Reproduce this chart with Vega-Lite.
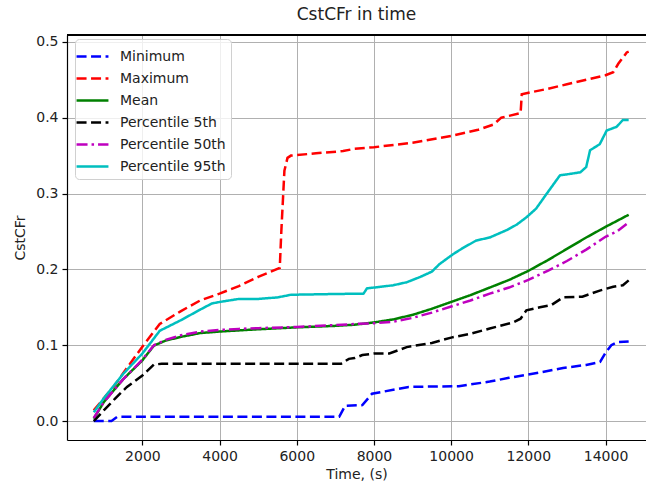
{
  "$schema": "https://vega.github.io/schema/vega-lite/v6.json",
  "width": 579,
  "height": 405,
  "autosize": "none",
  "padding": {"left": 67, "top": 35, "right": 0, "bottom": 46},
  "background": "white",
  "title": {"text": "CstCFr in time", "fontSize": 17, "font": "DejaVu Sans", "fontWeight": "normal", "color": "#222222", "offset": 10, "anchor": "middle"},
  "config": {
    "view": {"stroke": null},
    "font": "DejaVu Sans",
    "axis": {"grid": true, "labelFont": "DejaVu Sans", "titleFont": "DejaVu Sans", "labelFontSize": 14, "titleFontSize": 14, "titleFontWeight": "normal", "labelColor": "#222222", "titleColor": "#222222", "gridColor": "#b0b0b0", "gridWidth": 1, "gridOpacity": 1, "domainColor": "black", "domainWidth": 1.2, "tickColor": "black", "tickSize": 5, "tickWidth": 1.2, "labelPadding": 4},
    "legend": {
      "orient": "none", "legendX": 8, "legendY": 4,
      "symbolType": "M-1.45,0H1.45", "symbolSize": 484, "symbolStrokeWidth": 2.5, "symbolFillColor": "transparent",
      "labelFont": "DejaVu Sans", "labelFontSize": 14, "labelColor": "#222222", "labelOffset": 15,
      "fillColor": "rgba(255,255,255,0.8)", "strokeColor": "#d0d0d0", "cornerRadius": 4, "padding": 5, "rowPadding": 2
    }
  },
  "data": {"values": [
    {"series": "Minimum", "t": 740, "v": 0.0},
    {"series": "Minimum", "t": 1200, "v": 0.0},
    {"series": "Minimum", "t": 1350, "v": 0.0055},
    {"series": "Minimum", "t": 7100, "v": 0.0055},
    {"series": "Minimum", "t": 7250, "v": 0.02},
    {"series": "Minimum", "t": 7700, "v": 0.021},
    {"series": "Minimum", "t": 7950, "v": 0.036},
    {"series": "Minimum", "t": 8900, "v": 0.045},
    {"series": "Minimum", "t": 10200, "v": 0.046},
    {"series": "Minimum", "t": 11000, "v": 0.052},
    {"series": "Minimum", "t": 11500, "v": 0.057},
    {"series": "Minimum", "t": 12300, "v": 0.064},
    {"series": "Minimum", "t": 12900, "v": 0.07},
    {"series": "Minimum", "t": 13500, "v": 0.074},
    {"series": "Minimum", "t": 13860, "v": 0.078},
    {"series": "Minimum", "t": 14000, "v": 0.09},
    {"series": "Minimum", "t": 14150, "v": 0.1},
    {"series": "Minimum", "t": 14300, "v": 0.104},
    {"series": "Minimum", "t": 14600, "v": 0.105},

    {"series": "Maximum", "t": 740, "v": 0.014},
    {"series": "Maximum", "t": 1000, "v": 0.03},
    {"series": "Maximum", "t": 1250, "v": 0.045},
    {"series": "Maximum", "t": 1600, "v": 0.07},
    {"series": "Maximum", "t": 2000, "v": 0.098},
    {"series": "Maximum", "t": 2450, "v": 0.128},
    {"series": "Maximum", "t": 3000, "v": 0.145},
    {"series": "Maximum", "t": 3500, "v": 0.159},
    {"series": "Maximum", "t": 4000, "v": 0.168},
    {"series": "Maximum", "t": 4500, "v": 0.178},
    {"series": "Maximum", "t": 5000, "v": 0.19},
    {"series": "Maximum", "t": 5560, "v": 0.202},
    {"series": "Maximum", "t": 5600, "v": 0.25},
    {"series": "Maximum", "t": 5680, "v": 0.33},
    {"series": "Maximum", "t": 5760, "v": 0.347},
    {"series": "Maximum", "t": 5850, "v": 0.35},
    {"series": "Maximum", "t": 6500, "v": 0.353},
    {"series": "Maximum", "t": 7200, "v": 0.356},
    {"series": "Maximum", "t": 7500, "v": 0.359},
    {"series": "Maximum", "t": 8000, "v": 0.361},
    {"series": "Maximum", "t": 9000, "v": 0.367},
    {"series": "Maximum", "t": 10000, "v": 0.376},
    {"series": "Maximum", "t": 10700, "v": 0.384},
    {"series": "Maximum", "t": 11100, "v": 0.391},
    {"series": "Maximum", "t": 11300, "v": 0.4},
    {"series": "Maximum", "t": 11800, "v": 0.406},
    {"series": "Maximum", "t": 11830, "v": 0.431},
    {"series": "Maximum", "t": 12500, "v": 0.438},
    {"series": "Maximum", "t": 13000, "v": 0.444},
    {"series": "Maximum", "t": 13500, "v": 0.45},
    {"series": "Maximum", "t": 14000, "v": 0.456},
    {"series": "Maximum", "t": 14200, "v": 0.46},
    {"series": "Maximum", "t": 14330, "v": 0.471},
    {"series": "Maximum", "t": 14550, "v": 0.486},
    {"series": "Maximum", "t": 14600, "v": 0.487},

    {"series": "Mean", "t": 740, "v": 0.003},
    {"series": "Mean", "t": 1000, "v": 0.025},
    {"series": "Mean", "t": 1500, "v": 0.055},
    {"series": "Mean", "t": 2000, "v": 0.08},
    {"series": "Mean", "t": 2300, "v": 0.0995},
    {"series": "Mean", "t": 2600, "v": 0.106},
    {"series": "Mean", "t": 3000, "v": 0.111},
    {"series": "Mean", "t": 3500, "v": 0.116},
    {"series": "Mean", "t": 4000, "v": 0.118},
    {"series": "Mean", "t": 4500, "v": 0.1195},
    {"series": "Mean", "t": 5000, "v": 0.121},
    {"series": "Mean", "t": 6000, "v": 0.1235},
    {"series": "Mean", "t": 7000, "v": 0.1255},
    {"series": "Mean", "t": 7500, "v": 0.127},
    {"series": "Mean", "t": 8000, "v": 0.13},
    {"series": "Mean", "t": 8500, "v": 0.134},
    {"series": "Mean", "t": 9000, "v": 0.14},
    {"series": "Mean", "t": 9500, "v": 0.148},
    {"series": "Mean", "t": 10000, "v": 0.157},
    {"series": "Mean", "t": 10500, "v": 0.166},
    {"series": "Mean", "t": 11000, "v": 0.176},
    {"series": "Mean", "t": 11500, "v": 0.186},
    {"series": "Mean", "t": 12000, "v": 0.198},
    {"series": "Mean", "t": 12500, "v": 0.212},
    {"series": "Mean", "t": 13000, "v": 0.227},
    {"series": "Mean", "t": 13500, "v": 0.242},
    {"series": "Mean", "t": 14000, "v": 0.256},
    {"series": "Mean", "t": 14600, "v": 0.272},

    {"series": "Percentile 5th", "t": 740, "v": 0.0},
    {"series": "Percentile 5th", "t": 1000, "v": 0.014},
    {"series": "Percentile 5th", "t": 1300, "v": 0.03},
    {"series": "Percentile 5th", "t": 1600, "v": 0.045},
    {"series": "Percentile 5th", "t": 2000, "v": 0.06},
    {"series": "Percentile 5th", "t": 2300, "v": 0.0745},
    {"series": "Percentile 5th", "t": 2500, "v": 0.0755},
    {"series": "Percentile 5th", "t": 4000, "v": 0.0756},
    {"series": "Percentile 5th", "t": 6000, "v": 0.0756},
    {"series": "Percentile 5th", "t": 7150, "v": 0.0756},
    {"series": "Percentile 5th", "t": 7350, "v": 0.082},
    {"series": "Percentile 5th", "t": 7500, "v": 0.083},
    {"series": "Percentile 5th", "t": 7700, "v": 0.087},
    {"series": "Percentile 5th", "t": 8000, "v": 0.089},
    {"series": "Percentile 5th", "t": 8400, "v": 0.089},
    {"series": "Percentile 5th", "t": 8850, "v": 0.0975},
    {"series": "Percentile 5th", "t": 9500, "v": 0.103},
    {"series": "Percentile 5th", "t": 10000, "v": 0.11},
    {"series": "Percentile 5th", "t": 10500, "v": 0.115},
    {"series": "Percentile 5th", "t": 11000, "v": 0.122},
    {"series": "Percentile 5th", "t": 11600, "v": 0.13},
    {"series": "Percentile 5th", "t": 11800, "v": 0.135},
    {"series": "Percentile 5th", "t": 11950, "v": 0.146},
    {"series": "Percentile 5th", "t": 12300, "v": 0.15},
    {"series": "Percentile 5th", "t": 12600, "v": 0.153},
    {"series": "Percentile 5th", "t": 12900, "v": 0.163},
    {"series": "Percentile 5th", "t": 13400, "v": 0.164},
    {"series": "Percentile 5th", "t": 13850, "v": 0.172},
    {"series": "Percentile 5th", "t": 14200, "v": 0.177},
    {"series": "Percentile 5th", "t": 14450, "v": 0.179},
    {"series": "Percentile 5th", "t": 14600, "v": 0.1855},

    {"series": "Percentile 50th", "t": 740, "v": 0.004},
    {"series": "Percentile 50th", "t": 1000, "v": 0.025},
    {"series": "Percentile 50th", "t": 1500, "v": 0.055},
    {"series": "Percentile 50th", "t": 2000, "v": 0.081},
    {"series": "Percentile 50th", "t": 2300, "v": 0.1},
    {"series": "Percentile 50th", "t": 2600, "v": 0.107},
    {"series": "Percentile 50th", "t": 3000, "v": 0.113},
    {"series": "Percentile 50th", "t": 3500, "v": 0.118},
    {"series": "Percentile 50th", "t": 4000, "v": 0.12},
    {"series": "Percentile 50th", "t": 4500, "v": 0.1215},
    {"series": "Percentile 50th", "t": 5000, "v": 0.1225},
    {"series": "Percentile 50th", "t": 6000, "v": 0.124},
    {"series": "Percentile 50th", "t": 7000, "v": 0.1265},
    {"series": "Percentile 50th", "t": 7500, "v": 0.128},
    {"series": "Percentile 50th", "t": 8000, "v": 0.129},
    {"series": "Percentile 50th", "t": 8500, "v": 0.131},
    {"series": "Percentile 50th", "t": 9000, "v": 0.136},
    {"series": "Percentile 50th", "t": 9500, "v": 0.143},
    {"series": "Percentile 50th", "t": 10000, "v": 0.151},
    {"series": "Percentile 50th", "t": 10500, "v": 0.159},
    {"series": "Percentile 50th", "t": 11000, "v": 0.168},
    {"series": "Percentile 50th", "t": 11500, "v": 0.176},
    {"series": "Percentile 50th", "t": 12000, "v": 0.186},
    {"series": "Percentile 50th", "t": 12500, "v": 0.198},
    {"series": "Percentile 50th", "t": 13000, "v": 0.211},
    {"series": "Percentile 50th", "t": 13500, "v": 0.226},
    {"series": "Percentile 50th", "t": 14000, "v": 0.243},
    {"series": "Percentile 50th", "t": 14300, "v": 0.25},
    {"series": "Percentile 50th", "t": 14600, "v": 0.262},

    {"series": "Percentile 95th", "t": 740, "v": 0.0115},
    {"series": "Percentile 95th", "t": 1000, "v": 0.03},
    {"series": "Percentile 95th", "t": 1500, "v": 0.062},
    {"series": "Percentile 95th", "t": 2000, "v": 0.089},
    {"series": "Percentile 95th", "t": 2450, "v": 0.119},
    {"series": "Percentile 95th", "t": 3000, "v": 0.133},
    {"series": "Percentile 95th", "t": 3500, "v": 0.147},
    {"series": "Percentile 95th", "t": 3800, "v": 0.155},
    {"series": "Percentile 95th", "t": 4000, "v": 0.157},
    {"series": "Percentile 95th", "t": 4500, "v": 0.161},
    {"series": "Percentile 95th", "t": 5000, "v": 0.161},
    {"series": "Percentile 95th", "t": 5500, "v": 0.163},
    {"series": "Percentile 95th", "t": 5850, "v": 0.1665},
    {"series": "Percentile 95th", "t": 7000, "v": 0.1675},
    {"series": "Percentile 95th", "t": 7730, "v": 0.168},
    {"series": "Percentile 95th", "t": 7820, "v": 0.175},
    {"series": "Percentile 95th", "t": 8000, "v": 0.176},
    {"series": "Percentile 95th", "t": 8500, "v": 0.179},
    {"series": "Percentile 95th", "t": 8850, "v": 0.183},
    {"series": "Percentile 95th", "t": 9200, "v": 0.19},
    {"series": "Percentile 95th", "t": 9500, "v": 0.197},
    {"series": "Percentile 95th", "t": 9700, "v": 0.207},
    {"series": "Percentile 95th", "t": 10050, "v": 0.22},
    {"series": "Percentile 95th", "t": 10300, "v": 0.228},
    {"series": "Percentile 95th", "t": 10650, "v": 0.238},
    {"series": "Percentile 95th", "t": 11000, "v": 0.242},
    {"series": "Percentile 95th", "t": 11450, "v": 0.252},
    {"series": "Percentile 95th", "t": 11700, "v": 0.259},
    {"series": "Percentile 95th", "t": 11960, "v": 0.269},
    {"series": "Percentile 95th", "t": 12200, "v": 0.28},
    {"series": "Percentile 95th", "t": 12480, "v": 0.3},
    {"series": "Percentile 95th", "t": 12820, "v": 0.324},
    {"series": "Percentile 95th", "t": 13100, "v": 0.326},
    {"series": "Percentile 95th", "t": 13350, "v": 0.328},
    {"series": "Percentile 95th", "t": 13500, "v": 0.335},
    {"series": "Percentile 95th", "t": 13600, "v": 0.357},
    {"series": "Percentile 95th", "t": 13850, "v": 0.365},
    {"series": "Percentile 95th", "t": 14030, "v": 0.383},
    {"series": "Percentile 95th", "t": 14290, "v": 0.388},
    {"series": "Percentile 95th", "t": 14450, "v": 0.397},
    {"series": "Percentile 95th", "t": 14600, "v": 0.397}
  ]},
  "encoding": {
    "x": {"field": "t", "type": "quantitative", "scale": {"domain": [47, 15049], "nice": false, "zero": false},
          "axis": {"grid": true, "values": [2000, 4000, 6000, 8000, 10000, 12000, 14000], "format": "d", "title": "Time, (s)", "titlePadding": 4}},
    "y": {"field": "v", "type": "quantitative", "scale": {"domain": [-0.025, 0.509], "nice": false, "zero": false},
          "axis": {"grid": true, "values": [0, 0.1, 0.2, 0.3, 0.4, 0.5], "format": ".1f", "title": "CstCFr", "titlePadding": 8}}
  },
  "layer": [
    {
      "mark": {"type": "line", "strokeWidth": 2.5, "clip": true},
      "encoding": {
        "color": {"field": "series", "type": "nominal",
                  "scale": {"domain": ["Minimum", "Maximum", "Mean", "Percentile 5th", "Percentile 50th", "Percentile 95th"],
                            "range": ["#0000ff", "#ff0000", "#008000", "#000000", "#bf00bf", "#00bfbf"]},
                  "legend": {"title": null}},
        "strokeDash": {"field": "series", "type": "nominal",
                  "scale": {"domain": ["Minimum", "Maximum", "Mean", "Percentile 5th", "Percentile 50th", "Percentile 95th"],
                            "range": [[10, 4.5], [10, 4.5], [1, 0], [10, 4.5], [11, 4, 2.5, 4], [1, 0]]},
                  "legend": {"title": null}}
      }
    },
    {
      "mark": {"type": "rule", "color": "black", "strokeWidth": 1.2},
      "encoding": {"y": {"datum": 0.509}, "x": {"value": 0}, "x2": {"value": 579}}
    }
  ]
}
